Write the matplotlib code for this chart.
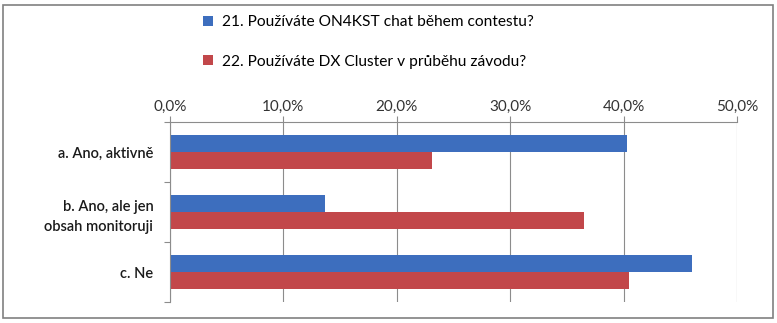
import matplotlib
matplotlib.use('Agg')
import matplotlib.pyplot as plt
from matplotlib.patches import Rectangle
from matplotlib.ticker import FuncFormatter

categories = ['a. Ano, aktivně', 'b. Ano, ale jen\nobsah monitoruji', 'c. Ne']
series_names = ['21. Používáte ON4KST chat během contestu?',
                '22. Používáte DX Cluster v průběhu závodu?']
chat_values = [40.3, 13.7, 46.0]
cluster_values = [23.1, 36.5, 40.5]
x_ticks = [0, 10, 20, 30, 40, 50]

blue = '#3D6EBE'
red = '#C2474A'
grid_col = '#8C8C8C'

plt.rcParams['font.family'] = ['Lato', 'DejaVu Sans']

fig = plt.figure(figsize=(7.77, 3.23), dpi=100)
ax = fig.add_axes([170 / 777, 1 - 302 / 323, 567 / 777, 180 / 323])

h = 0.278
pos = list(range(len(categories)))
ax.barh([p - h / 2 for p in pos], chat_values, height=h, color=blue, label=series_names[0])
ax.barh([p + h / 2 for p in pos], cluster_values, height=h, color=red, label=series_names[1])

ax.set_xlim(0, 50)
ax.set_ylim(len(categories) - 0.5, -0.5)
ax.set_xticks(x_ticks)
ax.xaxis.set_major_formatter(FuncFormatter(lambda v, _: f'{v:.1f}%'.replace('.', ',')))
ax.xaxis.tick_top()
ax.tick_params(axis='x', colors=grid_col, labelcolor='#333333', labelsize=11, length=4, pad=1.5)
ax.grid(axis='x', color=grid_col, linewidth=0.8)
ax.set_axisbelow(True)

ax.set_yticks([p - 0.5 for p in pos] + [len(categories) - 0.5])
ax.set_yticklabels([])
ax.set_yticks(pos, minor=True)
ax.set_yticklabels(categories, minor=True, fontsize=10.5, fontweight='semibold',
                   color='#1a1a1a', linespacing=1.6)
ax.tick_params(axis='y', which='major', colors=grid_col, length=4)
ax.tick_params(axis='y', which='minor', length=0, pad=12)

for s in ['right', 'bottom']:
    ax.spines[s].set_visible(False)
for s in ['left', 'top']:
    ax.spines[s].set_color(grid_col)
    ax.spines[s].set_linewidth(0.8)

fig.legend(loc='upper left', bbox_to_anchor=(197 / 777, 1 - 9 / 323), frameon=False,
           fontsize=11.2, labelspacing=1.65, handlelength=0.6, handleheight=0.6,
           handletextpad=0.6, borderaxespad=0)

fig.patches.append(Rectangle((3 / 777, 5 / 323), 770 / 777, 313 / 323, transform=fig.transFigure,
                             fill=False, edgecolor='#808080', linewidth=1.2))

fig.savefig('out.png', dpi=100)
